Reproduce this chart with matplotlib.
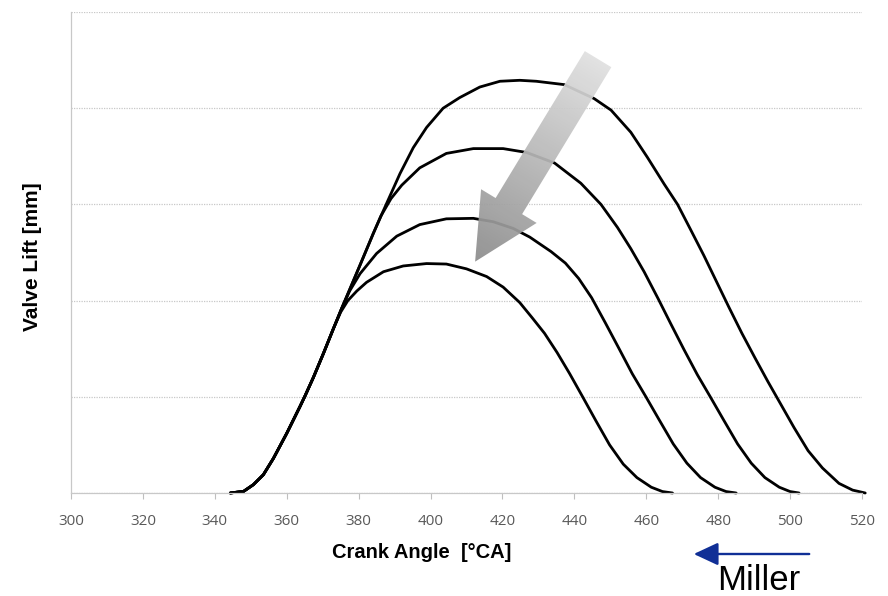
import matplotlib
matplotlib.use('Agg')
import matplotlib.pyplot as plt
import numpy as np
from matplotlib.patches import Polygon
from matplotlib.transforms import IdentityTransform

# Valve lift curves (crank angle in deg CA, lift in grid units)
rise_crank = [344.3, 348.0, 350.7, 353.5, 356.3, 360.0, 363.7, 365.1, 367.4, 370.2, 373.0]
rise_lift = [0.0, 0.017, 0.086, 0.19, 0.36, 0.62, 0.90, 1.01, 1.20, 1.45, 1.71]

crank_1 = rise_crank + [375.0, 377.0, 379.5, 382.2, 386.9, 392.4, 398.9, 404.4, 410.0, 415.6,
                        420.2, 424.8, 428.3, 431.7, 435.2, 438.7, 442.3, 446.0, 449.8, 453.6,
                        457.4, 461.4, 464.5, 467.3]
lift_1 = rise_lift + [1.88, 2.0, 2.10, 2.19, 2.30, 2.36, 2.385, 2.38, 2.33, 2.25,
                      2.14, 1.98, 1.82, 1.66, 1.46, 1.24, 1.0, 0.75, 0.50, 0.30,
                      0.16, 0.06, 0.015, 0.0]

crank_2 = rise_crank + [375.3, 377.5, 380.4, 385.0, 390.6, 397.0, 404.4, 411.9, 417.4, 423.0,
                        427.6, 433.5, 437.5, 441.2, 444.8, 448.6, 452.3, 456.1, 459.9, 463.6,
                        467.5, 471.3, 475.1, 479.1, 482.2, 485.0]
lift_2 = rise_lift + [1.92, 2.10, 2.28, 2.49, 2.67, 2.79, 2.85, 2.855, 2.82, 2.75,
                      2.66, 2.51, 2.39, 2.23, 2.03, 1.77, 1.51, 1.24, 1.0, 0.76,
                      0.51, 0.31, 0.16, 0.06, 0.015, 0.0]

crank_3 = rise_crank + [375.3, 380.4, 384.1, 386.2, 389.0, 392.0, 397.0, 404.4, 411.9, 420.2,
                        426.7, 434.5, 441.8, 447.4, 452.0, 455.7, 459.4, 463.3, 466.8, 470.5,
                        474.2, 477.8, 481.5, 485.4, 489.2, 493.0, 497.0, 500.0, 502.5]
lift_3 = rise_lift + [1.92, 2.37, 2.70, 2.88, 3.06, 3.20, 3.38, 3.53, 3.58, 3.58,
                      3.54, 3.43, 3.22, 3.0, 2.76, 2.54, 2.30, 2.02, 1.76, 1.49,
                      1.23, 1.0, 0.76, 0.51, 0.31, 0.16, 0.06, 0.015, 0.0]

crank_4 = rise_crank + [375.3, 380.4, 384.1, 387.3, 391.5, 395.2, 398.9, 403.5, 408.1, 413.7,
                        419.3, 424.8, 429.4, 437.2, 445.5, 450.2, 455.7, 460.3, 465.0, 468.7,
                        472.3, 476.0, 479.5, 483.0, 486.6, 490.3, 493.8, 497.3, 501.1, 505.0,
                        509.0, 513.6, 517.4, 520.9]
lift_4 = rise_lift + [1.92, 2.37, 2.70, 2.97, 3.32, 3.59, 3.80, 4.0, 4.11, 4.22,
                      4.28, 4.29, 4.28, 4.245, 4.10, 3.98, 3.75, 3.49, 3.21, 3.0,
                      2.74, 2.47, 2.20, 1.93, 1.66, 1.40, 1.16, 0.93, 0.68, 0.44,
                      0.26, 0.10, 0.03, 0.0]

curves = [(crank_1, lift_1), (crank_2, lift_2), (crank_3, lift_3), (crank_4, lift_4)]
x_ticks = [300, 320, 340, 360, 380, 400, 420, 440, 460, 480, 500, 520]
grid_levels = [0, 1, 2, 3, 4, 5]

fig = plt.figure(figsize=(8.88, 5.96), dpi=100)
ax = fig.add_axes([71 / 888, 103 / 596, 791 / 888, 481 / 596])

for cx, ly in curves:
    ax.plot(cx, ly, color='black', lw=2.0, solid_capstyle='round', solid_joinstyle='round',
            zorder=2, clip_on=False)

ax.set_xlim(300, 520)
ax.set_ylim(0, 5)
ax.set_xticks(x_ticks)
ax.set_xticklabels([str(v) for v in x_ticks], fontfamily='Open Sans', fontsize=11, color='#595959')
ax.set_yticks(grid_levels)
ax.set_yticklabels([])
ax.tick_params(axis='y', length=0)
ax.tick_params(axis='x', length=4, color='#bfbfbf', pad=11)
ax.grid(axis='y', color='#c8c8c8', linestyle=(0, (1, 1)), lw=0.9, zorder=0)
ax.set_axisbelow(True)
for s in ['top', 'right']:
    ax.spines[s].set_visible(False)
for s in ['left', 'bottom']:
    ax.spines[s].set_color('#c8c8c8')
    ax.spines[s].set_linestyle((0, (1, 1)))
    ax.spines[s].set_linewidth(0.9)

# grey block arrow with gradient (tail centre and tip in data units)
p0 = ax.transData.transform((446.6, 4.51))
p1 = ax.transData.transform((412.4, 2.405))
d = p1 - p0
L = np.hypot(*d)
u = d / L
n = np.array([-u[1], u[0]])
shaft_w, head_w, head_l = 15.5, 32.5, 65
base = p1 - u * head_l
pts = [p0 + n * shaft_w, base + n * shaft_w, base + n * head_w, p1,
       base - n * head_w, base - n * shaft_w, p0 - n * shaft_w]
poly = Polygon(pts, closed=True, transform=IdentityTransform(),
               facecolor='none', edgecolor='none')
ax.add_patch(poly)
pts = np.array(pts)
xmin, ymin = pts.min(axis=0)
xmax, ymax = pts.max(axis=0)
gx, gy = np.meshgrid(np.linspace(xmin, xmax, 200), np.linspace(ymin, ymax, 200))
t = ((gx - p0[0]) * u[0] + (gy - p0[1]) * u[1]) / L
t = np.clip(t, 0, 1)
shade = 0.88 - 0.33 * t
img = np.dstack([shade, shade, shade])
inv = ax.transData.inverted()
(dx0, dy0), (dx1, dy1) = inv.transform([(xmin, ymin), (xmax, ymax)])
im = ax.imshow(img, extent=[dx0, dx1, dy0, dy1], origin='lower', aspect='auto',
               interpolation='bilinear', zorder=3, alpha=0.93)
im.set_clip_path(poly)
ax.set_xlim(300, 520)
ax.set_ylim(0, 5)

fig.text(422 / 888, 1 - 552 / 596, 'Crank Angle  [°CA]', ha='center', va='center',
         fontfamily='Liberation Sans', fontweight='bold', fontsize=14.5)
fig.text(32 / 888, 1 - 257 / 596, 'Valve Lift [mm]', ha='center', va='center', rotation=90,
         fontfamily='Liberation Sans', fontweight='bold', fontsize=15)
fig.text(759 / 888, 1 - 580 / 596, 'Miller', ha='center', va='center',
         fontfamily='Liberation Sans', fontsize=25)
fig.add_artist(matplotlib.patches.FancyArrowPatch(
    (812 / 888, 1 - 554 / 596), (691 / 888, 1 - 554 / 596), transform=fig.transFigure,
    arrowstyle='-|>,head_length=15,head_width=7', mutation_scale=1,
    color='#102f96', lw=1.7))

plt.savefig('out.png', dpi=100)
